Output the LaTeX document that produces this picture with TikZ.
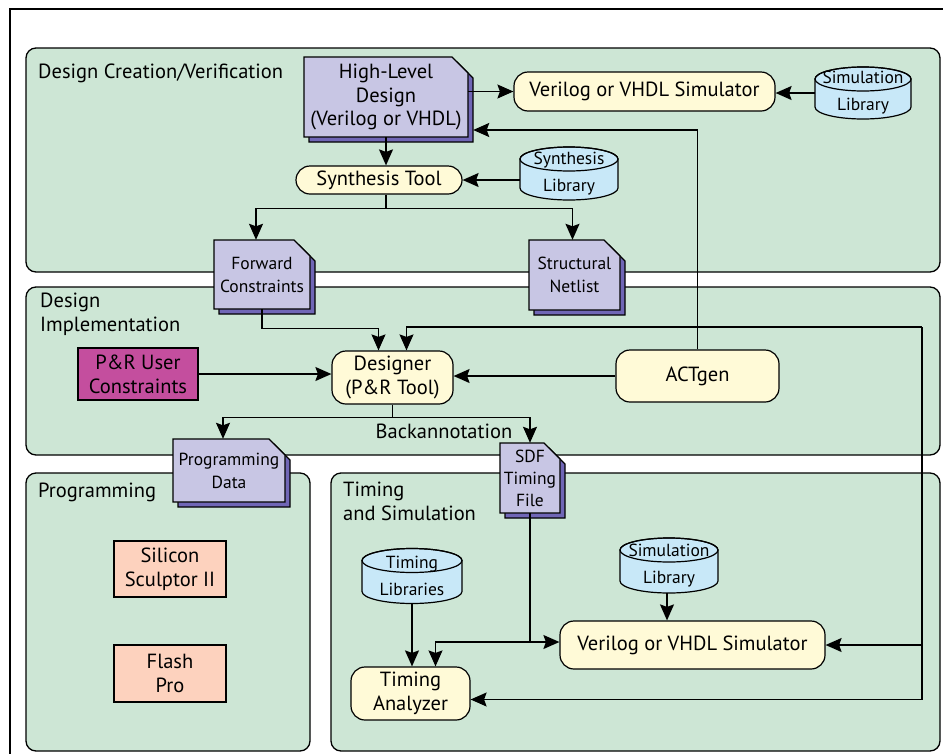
\documentclass[tikz,border=0pt]{standalone}
\usepackage{fontspec}
\setmainfont{PT Sans}
\definecolor{panelgreen}{RGB}{205,230,213}
\definecolor{docfill}{RGB}{200,198,228}
\definecolor{docshade}{RGB}{112,102,182}
\definecolor{toolyellow}{RGB}{255,250,215}
\definecolor{libblue}{RGB}{200,232,248}
\definecolor{prumagenta}{RGB}{196,78,158}
\definecolor{hwpeach}{RGB}{253,210,190}
\usetikzlibrary{arrows.meta}
\newcommand*{\bigfont}{\fontsize{20.5}{24}\selectfont}
\newcommand*{\smallfont}{\fontsize{17.5}{23}\selectfont}
\tikzstyle{panel}=[draw=black, fill=panelgreen, rounded corners=10pt, line width=1.3pt]
\tikzstyle{paneltitle}=[inner sep=0pt, font=\bigfont]
\tikzstyle{tool}=[draw=black, fill=toolyellow, rounded corners=14pt, line width=1.2pt, inner sep=0pt, align=center, font=\bigfont]
\tikzstyle{hw}=[draw=black, fill=hwpeach, line width=1.1pt, inner sep=0pt, align=center, font=\bigfont]
\tikzstyle{docline}=[draw=black, line width=1.2pt]
\tikzstyle{doctext}=[inner sep=0pt, align=center, font=\smallfont]
\tikzstyle{libline}=[draw=black, line width=1.2pt]
\tikzstyle{libtext}=[inner sep=0pt, align=center, font=\fontsize{17.5}{27}\selectfont]
\tikzstyle{wire}=[line width=1.4pt, -{Stealth[length=16pt, width=14pt, inset=2.5pt]}]
\tikzstyle{plain}=[line width=1.4pt]

% [options], name, x, y, width, height, text
\newcommand*{\docnode}[7][]{%
  \draw [docline, fill=docshade] ({#3-#5/2+5},{#4-#6/2+5}) -- ({#3+#5/2-11},{#4-#6/2+5})
    -- ({#3+#5/2+5},{#4-#6/2+21}) -- ({#3+#5/2+5},{#4+#6/2+5}) -- ({#3-#5/2+5},{#4+#6/2+5}) -- cycle;
  \draw [docline, fill=docfill] ({#3-#5/2},{#4-#6/2}) -- ({#3+#5/2-16},{#4-#6/2})
    -- ({#3+#5/2},{#4-#6/2+16}) -- ({#3+#5/2},{#4+#6/2}) -- ({#3-#5/2},{#4+#6/2}) -- cycle;
  \node [doctext, minimum width=#5, minimum height=#6, #1] (#2) at (#3,#4) {#7};}
\newcommand*{\libnode}[6]{%
  \draw [libline, fill=libblue] ({#2-#4/2},{#3-#5/2+12}) -- ({#2-#4/2},{#3+#5/2-12})
    arc [start angle=180, end angle=360, x radius={#4*0.5pt}, y radius=12pt]
    -- ({#2+#4/2},{#3-#5/2+12})
    arc [start angle=0, end angle=180, x radius={#4*0.5pt}, y radius=12pt] -- cycle;
  \draw [libline] (#2,{#3-#5/2+12}) ellipse [x radius={#4*0.5pt}, y radius=12pt];
  \node [libtext, minimum width=#4, minimum height=#5] (#1) at (#2,#3) {#6};}

\begin{document}
\begin{tikzpicture}[x=1pt, y=-1pt]
    \useasboundingbox (0,0) rectangle (943,753);
    \draw [line width=1.3pt] (10,9) rectangle (960,770);

    % the four areas
    \draw [panel] (26,48) rectangle (940,272);
    \draw [panel] (26,287) rectangle (940,455);
    \draw [panel] (26,473) rectangle (310,751);
    \draw [panel] (331,473) rectangle (940,751);
    \node [paneltitle, anchor=base west] (lblcreate) at (38,78) {Design Creation/Verification};
    \node [paneltitle, anchor=north west, align=left] (lblimpl) at (40,293) {Design\\Implementation};
    \node [paneltitle, anchor=base west] (lblprog) at (38,497) {Programming};
    \node [paneltitle, anchor=north west, align=left] (lbltime) at (343,482) {Timing\\and Simulation};
    \node [paneltitle, anchor=base] (lblback) at (444,438) {Backannotation};

    % design creation
    \docnode[font=\fontsize{20.5}{23.5}\selectfont]{hld}{386}{97}{164}{80}{High-Level\\Design\\(Verilog or VHDL)}
    \node [tool, minimum width=261, minimum height=39] (sim1) at (644.5,91.5) {Verilog or VHDL Simulator};
    \libnode{slib1}{863}{93}{96}{52}{Simulation\\Library}
    \node [tool, minimum width=166, minimum height=28] (syn) at (379,180) {Synthesis Tool};
    \libnode{synlib}{569}{173.5}{98}{53}{Synthesis\\Library}
    \docnode{fwd}{262}{274.5}{96}{69}{Forward\\Constraints}
    \docnode{net}{574.5}{275}{91}{70}{Structural\\Netlist}

    % implementation
    \node [hw, fill=prumagenta, minimum width=120, minimum height=52] (pru) at (138,374) {P\&R User\\Constraints};
    \node [tool, minimum width=121, minimum height=53] (des) at (392.5,377.5) {Designer\\(P\&R Tool)};
    \node [tool, minimum width=163, minimum height=52] (act) at (697.5,376) {ACTgen};
    \docnode{prog}{229}{470.5}{112}{63}{Programming\\Data}
    \docnode[font=\fontsize{17.5}{22}\selectfont]{sdf}{530}{478}{60}{70}{SDF\\Timing\\File}

    % programming
    \node [hw, minimum width=112, minimum height=56] (sculptor) at (170,569) {Silicon\\Sculptor II};
    \node [hw, minimum width=112, minimum height=57] (flashpro) at (170,673.5) {Flash\\Pro};

    % timing and simulation
    \libnode{tlib}{412}{576}{100}{55}{Timing\\Libraries}
    \libnode{slib2}{669}{565.5}{98}{55}{Simulation\\Library}
    \node [tool, minimum width=265, minimum height=48] (sim2) at (692.5,645) {Verilog or VHDL Simulator};
    \node [tool, minimum width=119, minimum height=53] (ta) at (410.5,693.5) {Timing\\Analyzer};

    % connections
    \draw [wire] (hld.east |- sim1.west) -- (sim1.west);
    \draw [wire] (slib1.west) -- (slib1.west -| sim1.east);
    \draw [wire] (hld.south) -- (hld.south |- syn.north);
    \draw [wire] (syn.east -| synlib.west) -- (syn.east);
    \draw [plain] ([xshift=7pt]syn.south) -- ++(0,14) coordinate (synfork);
    \draw [wire] (synfork) -| ([xshift=-6pt]fwd.north);
    \draw [wire] (synfork) -| ([xshift=-2pt]net.north);
    \draw [wire] (fwd.south) -- ++(0,19) -| ([xshift=-14pt]des.north);
    \draw [wire] (act.north) |- ([shift={(5,33)}]hld.east);
    \coordinate (loop) at (922,327);
    \draw [wire] (loop) -| ([xshift=14pt]des.north);
    \draw [wire] (loop) |- ([yshift=-6pt]ta.east);
    \draw [wire] (loop |- sim2.east) -- (sim2.east);
    \draw [wire] (pru.east) -- (pru.east -| des.west);
    \draw [wire] (act.west) -- (act.west -| des.east);
    \draw [plain] (des.south) -- ++(0,13) coordinate (desfork);
    \draw [wire] (desfork) -| ([xshift=-6pt]prog.north);
    \draw [wire] (desfork) -| (sdf.north);
    \draw [plain] (sdf.south) -- ([yshift=3pt]sdf.south |- sim2.west) coordinate (sdffork);
    \draw [wire] (sdffork) -- (sdffork -| sim2.west);
    \draw [wire] (sdffork) -| ([xshift=25pt]ta.north);
    \draw [wire] (tlib.south) -- (tlib.south |- ta.north);
    \draw [wire] ([xshift=-2pt]slib2.south) -- ([xshift=-2pt]slib2.south |- sim2.north);
\end{tikzpicture}
\end{document}
